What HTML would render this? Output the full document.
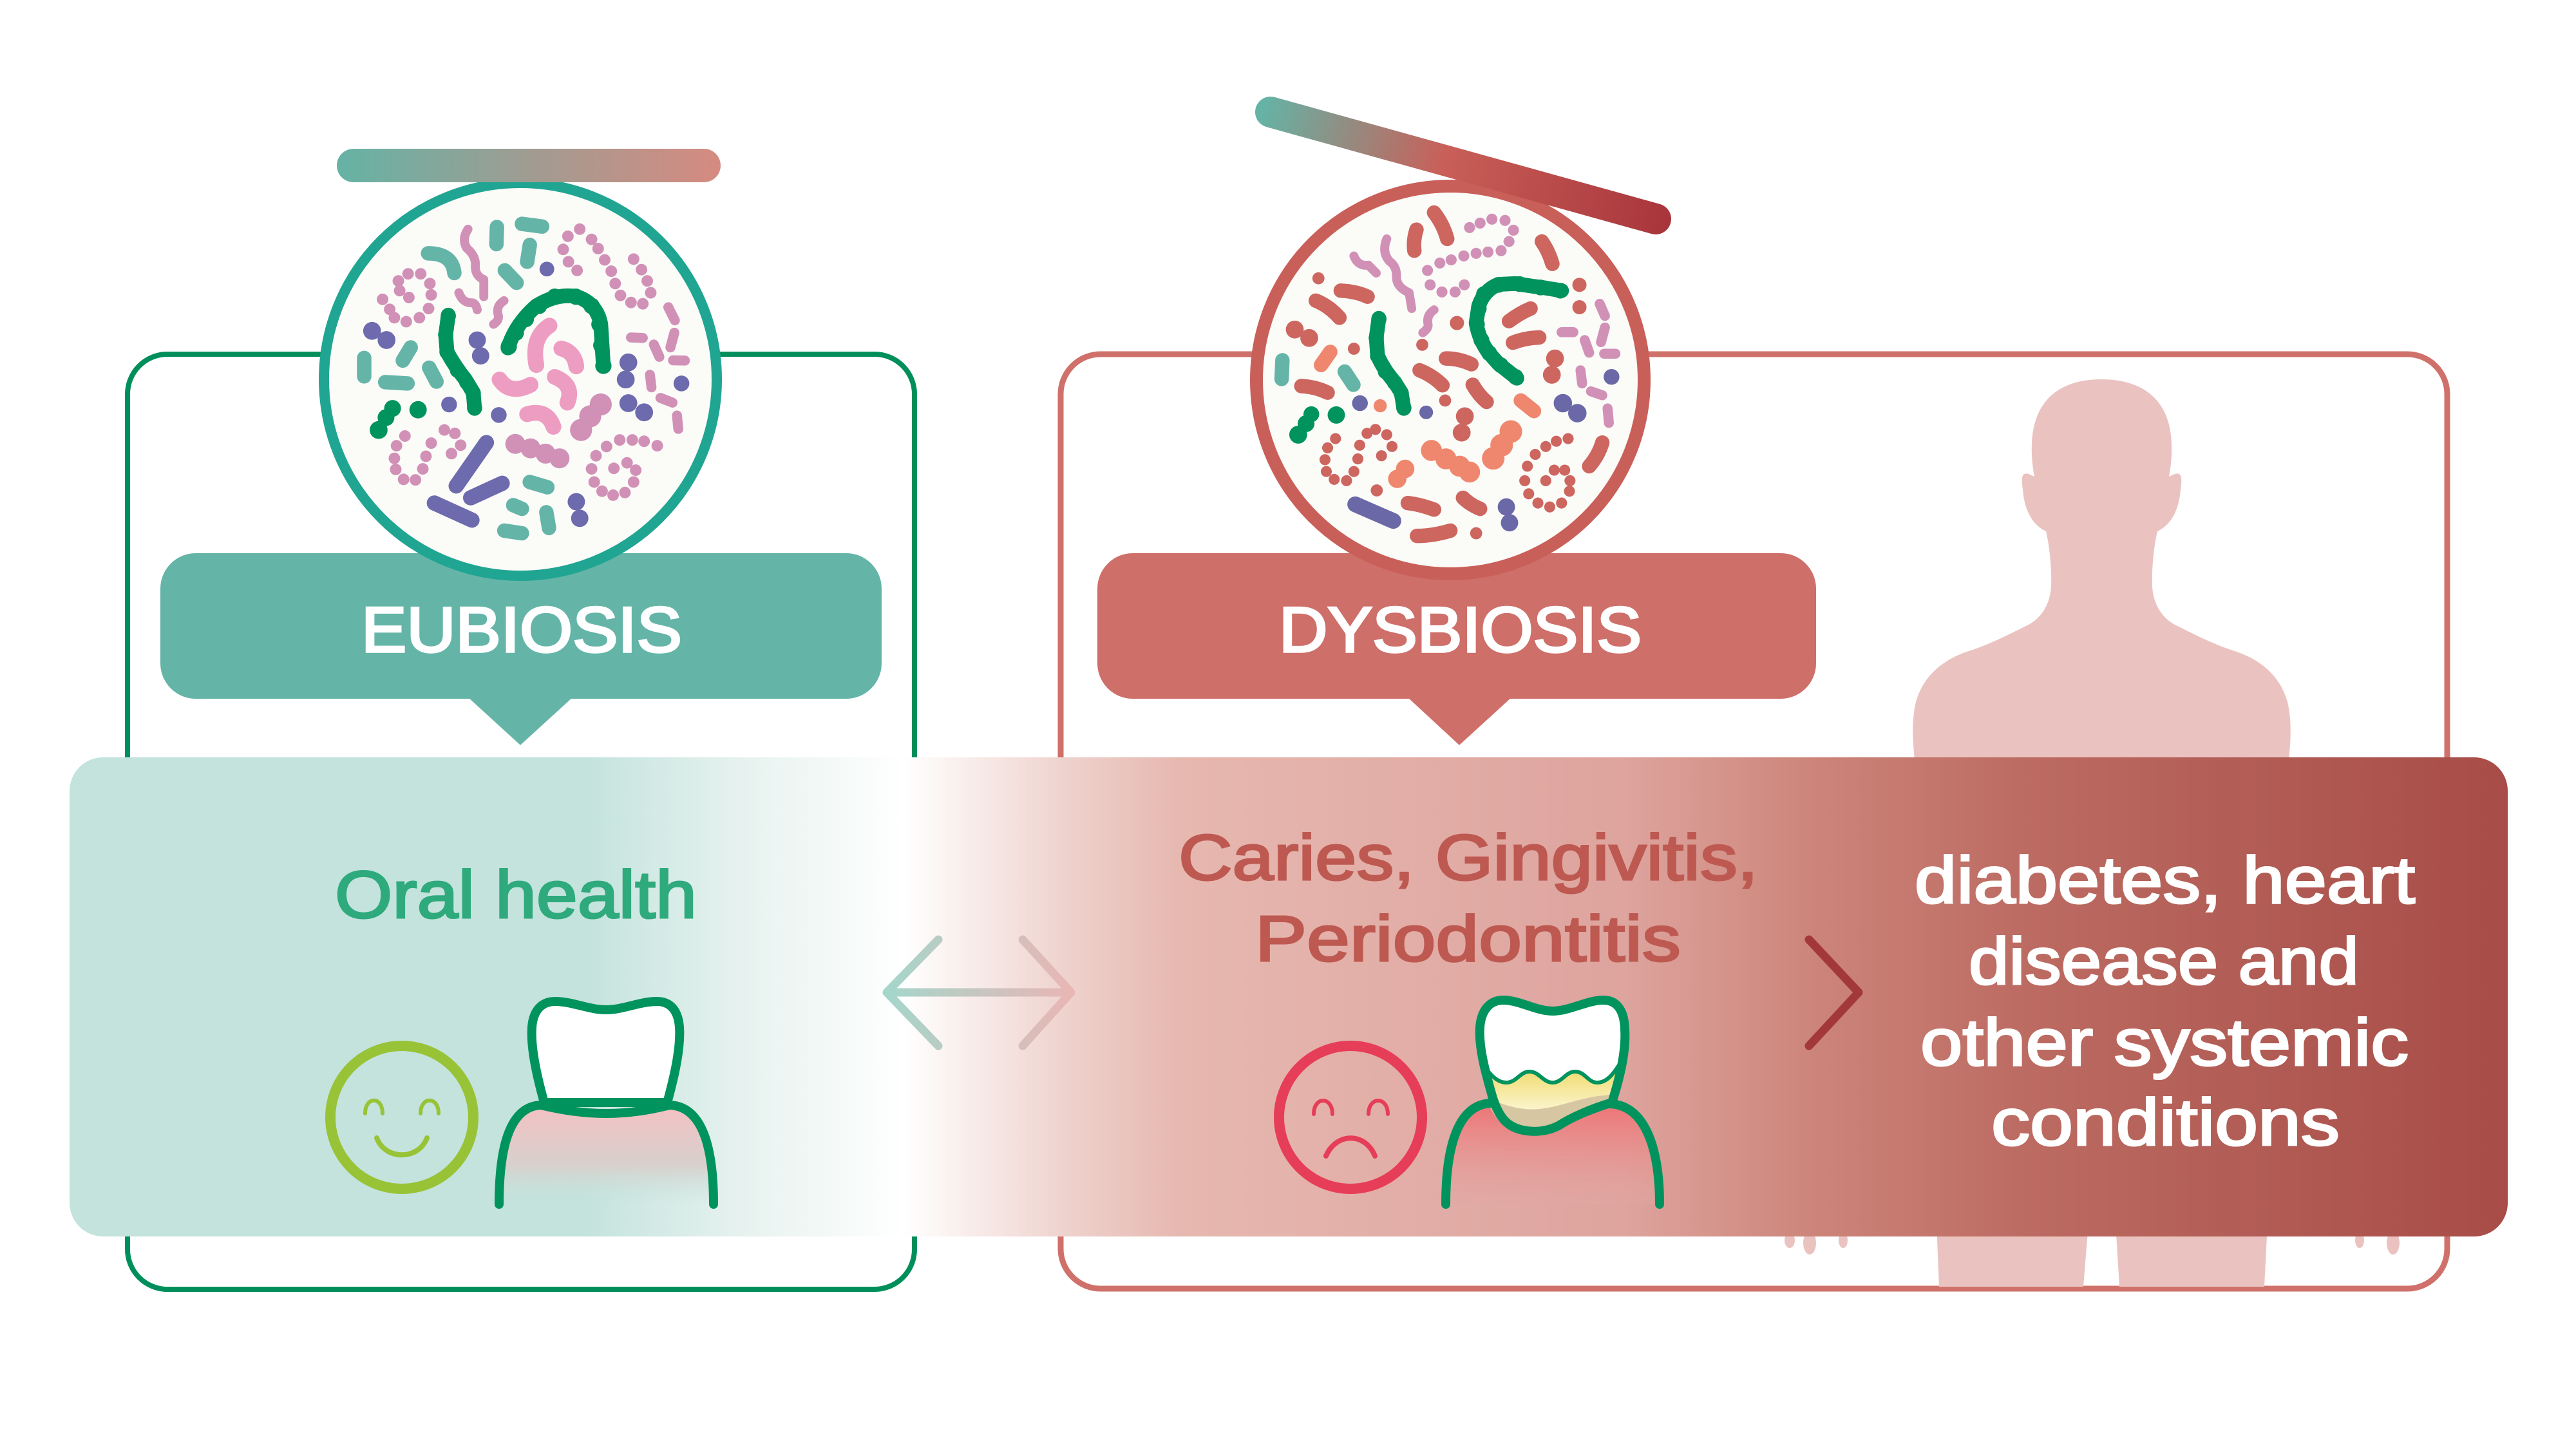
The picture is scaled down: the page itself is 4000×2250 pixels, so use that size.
<!DOCTYPE html>
<html><head><meta charset="utf-8"><style>
html,body{margin:0;padding:0;background:#fff;}
svg{display:block;}
.t{font-family:"Liberation Sans",sans-serif;}
</style></head><body>
<svg width="4000" height="2250" viewBox="0 0 4000 2250" xmlns="http://www.w3.org/2000/svg">
<defs>
<linearGradient id="band" gradientUnits="userSpaceOnUse" x1="108" y1="0" x2="3894" y2="0">
<stop offset="0" stop-color="#c4e3dd"/><stop offset="0.212" stop-color="#c4e3dd"/>
<stop offset="0.275" stop-color="#e6f2ef"/><stop offset="0.342" stop-color="#ffffff"/>
<stop offset="0.407" stop-color="#efd3ce"/><stop offset="0.455" stop-color="#e6b8b0"/>
<stop offset="0.637" stop-color="#dea49e"/><stop offset="0.717" stop-color="#cc8479"/>
<stop offset="0.798" stop-color="#bd6c63"/><stop offset="0.879" stop-color="#b35f57"/>
<stop offset="1" stop-color="#a84c47"/></linearGradient>
<linearGradient id="eubar" x1="0" y1="0" x2="1" y2="0">
<stop offset="0" stop-color="#65b3a5"/><stop offset="0.5" stop-color="#a09c92"/><stop offset="1" stop-color="#d68a80"/></linearGradient>
<linearGradient id="dysbar" gradientUnits="userSpaceOnUse" x1="1960" y1="170" x2="2590" y2="345">
<stop offset="0" stop-color="#65b3a5"/><stop offset="0.45" stop-color="#c95f58"/><stop offset="1" stop-color="#a8353b"/></linearGradient>
<linearGradient id="dbl" gradientUnits="userSpaceOnUse" x1="1375" y1="0" x2="1665" y2="0">
<stop offset="0" stop-color="#a4d6cb"/><stop offset="1" stop-color="#e9b6b4"/></linearGradient>
<linearGradient id="gum1" gradientUnits="userSpaceOnUse" x1="0" y1="1715" x2="0" y2="1872">
<stop offset="0" stop-color="#f4c0c2"/><stop offset="0.6" stop-color="#d8d0cc"/><stop offset="1" stop-color="#c4e3dd" stop-opacity="0"/></linearGradient>
<linearGradient id="gum2" gradientUnits="userSpaceOnUse" x1="0" y1="1715" x2="0" y2="1872">
<stop offset="0" stop-color="#ee7476"/><stop offset="1" stop-color="#e3a8a5" stop-opacity="0.3"/></linearGradient>
<linearGradient id="plaque" gradientUnits="userSpaceOnUse" x1="0" y1="1670" x2="0" y2="1725">
<stop offset="0" stop-color="#f2df7c"/><stop offset="1" stop-color="#fbf5cf"/></linearGradient>
<clipPath id="crown2"><path d="M2318,1705 C2305,1660 2296,1625 2298,1595 C2300,1568 2314,1553 2334,1553 C2360,1553 2385,1570 2411,1570 C2437,1570 2464,1553 2490,1553 C2510,1553 2522,1568 2523,1598 C2525,1628 2518,1665 2503,1712 C2470,1722 2440,1735 2420,1748 C2400,1758 2380,1758 2365,1755 C2340,1750 2328,1735 2318,1705 Z"/></clipPath>
</defs>

<!-- outline boxes -->
<rect x="198" y="550" width="1222" height="1452" rx="62" fill="none" stroke="#008f5b" stroke-width="8"/>
<rect x="1647" y="550" width="2153" height="1451" rx="62" fill="none" stroke="#cf716a" stroke-width="9"/>

<!-- human silhouette -->
<g fill="#eac3c1">
<path d="M3263,589 C3200,589 3157,620 3155,690 C3154,710 3157,730 3159,740 L3150,736 C3140,733 3138,740 3141,760 C3143,790 3155,815 3177,825 C3183,850 3186,885 3185,910 C3184,935 3172,958 3150,970 C3120,985 3090,1000 3063,1009 C3010,1025 2985,1055 2975,1090 C2968,1120 2970,1150 2973,1180 L2973,1260 L3554,1260 L3554,1180 C3557,1150 3559,1120 3552,1090 C3542,1055 3517,1025 3464,1009 C3437,1000 3407,985 3377,970 C3355,958 3343,935 3342,910 C3341,885 3344,850 3350,825 C3372,815 3384,790 3386,760 C3389,740 3387,733 3377,736 L3368,740 C3370,730 3373,710 3372,690 C3370,620 3327,589 3263,589 Z"/>
<polygon points="3007,1900 3243,1900 3235,1998 3011,1998"/>
<polygon points="3285,1900 3521,1900 3516,1998 3291,1998"/>
<ellipse cx="2779" cy="1926" rx="8" ry="12"/>
<ellipse cx="2810" cy="1930" rx="10" ry="18"/>
<ellipse cx="2862" cy="1926" rx="7" ry="12"/>
<ellipse cx="3664" cy="1926" rx="7" ry="12"/>
<ellipse cx="3716" cy="1930" rx="10" ry="18"/>
</g>

<!-- label boxes -->
<rect x="249" y="859" width="1120" height="226" rx="55" fill="#64b5a8"/>
<polygon points="727,1083 889,1083 808,1157" fill="#64b5a8"/>
<rect x="1704" y="859" width="1116" height="226" rx="55" fill="#ce6f69"/>
<polygon points="2186,1083 2347,1083 2266,1157" fill="#ce6f69"/>
<text class="t" x="561" y="1012" textLength="498" lengthAdjust="spacingAndGlyphs" font-size="99" fill="#fff" stroke="#fff" stroke-width="3.5">EUBIOSIS</text>
<text class="t" x="1986" y="1012" textLength="563" lengthAdjust="spacingAndGlyphs" font-size="99" fill="#fff" stroke="#fff" stroke-width="3.5">DYSBIOSIS</text>

<!-- circles -->
<circle cx="808" cy="589" r="305" fill="#fbfbf8" stroke="#21a593" stroke-width="16"/>
<circle cx="2252" cy="590" r="301" fill="#fbfbf8" stroke="#c95f59" stroke-width="20"/>

<!-- eubiosis bacteria -->
<g transform="translate(490,275) scale(0.40816)" stroke-linecap="round" stroke-linejoin="round">
<g fill="none" stroke="#64b5a8" stroke-width="55">
<path d="M690,190 L688,255 M785,178 L862,188 M815,258 L805,322 M428,290 Q520,290 528,365 M720,355 L765,402 M362,648 L332,698 M185,688 L185,758 M265,780 L350,785 M432,725 L460,778 M815,1160 L882,1180 M752,1248 L785,1262 M878,1275 L888,1335 M718,1345 L785,1355"/>
</g>
<g fill="#d191b7">
<circle cx="315" cy="395" r="22"/><circle cx="320" cy="432" r="22"/><circle cx="355" cy="458" r="22"/><circle cx="440" cy="448" r="22"/><circle cx="435" cy="405" r="22"/><circle cx="400" cy="368" r="22"/><circle cx="352" cy="368" r="22"/>
<circle cx="255" cy="465" r="22"/><circle cx="282" cy="503" r="22"/><circle cx="300" cy="535" r="22"/><circle cx="345" cy="550" r="22"/><circle cx="395" cy="535" r="22"/><circle cx="430" cy="500" r="22"/>
<circle cx="960" cy="225" r="22"/><circle cx="1005" cy="198" r="22"/><circle cx="1050" cy="237" r="22"/><circle cx="1075" cy="272" r="22"/><circle cx="1100" cy="315" r="22"/><circle cx="1125" cy="358" r="22"/><circle cx="1140" cy="405" r="22"/><circle cx="1160" cy="450" r="22"/><circle cx="1200" cy="477" r="22"/><circle cx="1245" cy="482" r="22"/><circle cx="1275" cy="440" r="22"/><circle cx="1262" cy="395" r="22"/><circle cx="1240" cy="352" r="22"/><circle cx="1210" cy="312" r="22"/><circle cx="942" cy="275" r="22"/><circle cx="962" cy="322" r="22"/><circle cx="995" cy="355" r="22"/>
<circle cx="340" cy="985" r="22"/><circle cx="308" cy="1022" r="22"/><circle cx="300" cy="1070" r="22"/><circle cx="305" cy="1112" r="22"/><circle cx="335" cy="1150" r="22"/><circle cx="380" cy="1152" r="22"/><circle cx="408" cy="1110" r="22"/><circle cx="420" cy="1062" r="22"/><circle cx="440" cy="1012" r="22"/><circle cx="490" cy="962" r="22"/><circle cx="530" cy="975" r="22"/><circle cx="552" cy="1020" r="22"/><circle cx="517" cy="1052" r="22"/>
<circle cx="1300" cy="1022" r="22"/><circle cx="1250" cy="1005" r="22"/><circle cx="1205" cy="1000" r="22"/><circle cx="1157" cy="1000" r="22"/><circle cx="1107" cy="1025" r="22"/><circle cx="1067" cy="1060" r="22"/><circle cx="1050" cy="1110" r="22"/><circle cx="1060" cy="1160" r="22"/><circle cx="1090" cy="1195" r="22"/><circle cx="1132" cy="1210" r="22"/><circle cx="1177" cy="1200" r="22"/><circle cx="1210" cy="1160" r="22"/><circle cx="1218" cy="1115" r="22"/><circle cx="1185" cy="1087" r="22"/><circle cx="1135" cy="1108" r="22"/>
<circle cx="760" cy="1015" r="38"/><circle cx="818" cy="1032" r="38"/><circle cx="875" cy="1052" r="38"/><circle cx="928" cy="1070" r="38"/>
<circle cx="1085" cy="865" r="42"/><circle cx="1045" cy="910" r="42"/><circle cx="1010" cy="962" r="42"/>
</g>
<g fill="none" stroke="#d191b7" stroke-width="38">
<path d="M1342,495 L1367,545 M1365,592 L1350,648 M1200,610 L1245,612 M1287,637 L1308,684 M1360,697 L1405,698 M1272,752 L1278,800 M1312,840 L1358,858 M1375,907 L1380,958"/>
</g>
<g fill="none" stroke="#d191b7" stroke-width="34">
<path d="M580,198 Q555,235 575,270 Q610,300 608,335 Q605,375 640,390 L640,455 M545,440 Q560,480 595,478 Q610,480 615,505 M717,470 Q685,490 695,525 Q700,545 677,560"/>
</g>
<g fill="none" stroke="#ee9dc2" stroke-width="60">
<path d="M890,565 Q820,610 840,715 M935,652 Q985,665 992,720 M700,770 Q740,830 818,790 M910,760 Q985,790 958,858 M805,902 Q880,880 905,950"/>
</g>
<g fill="none" stroke="#00935d" stroke-width="56">
<path d="M732,650 Q760,560 840,490 Q920,440 995,455 Q1070,480 1085,560 L1095,720 M505,525 L495,600 L500,665 Q530,720 570,770 L600,820 L605,880"/>
</g>
<g fill="#00935d">
<circle cx="735" cy="645" r="31"/><circle cx="762" cy="592" r="31"/><circle cx="800" cy="540" r="31"/><circle cx="850" cy="490" r="31"/><circle cx="910" cy="455" r="31"/><circle cx="990" cy="455" r="31"/><circle cx="1050" cy="490" r="31"/><circle cx="1080" cy="560" r="31"/><circle cx="1087" cy="640" r="31"/><circle cx="1095" cy="718" r="31"/>
<circle cx="505" cy="528" r="29"/><circle cx="495" cy="600" r="29"/><circle cx="500" cy="665" r="29"/><circle cx="540" cy="735" r="29"/><circle cx="575" cy="780" r="29"/><circle cx="600" cy="822" r="29"/><circle cx="605" cy="878" r="29"/>
<circle cx="240" cy="962" r="34"/><circle cx="268" cy="915" r="32"/><circle cx="293" cy="880" r="32"/><circle cx="390" cy="885" r="33"/>
</g>
<g fill="#6d6aad">
<circle cx="215" cy="585" r="34"/><circle cx="270" cy="620" r="34"/><circle cx="615" cy="620" r="33"/><circle cx="628" cy="680" r="33"/><circle cx="1190" cy="705" r="34"/><circle cx="1180" cy="770" r="34"/><circle cx="1190" cy="860" r="34"/><circle cx="1250" cy="895" r="34"/><circle cx="992" cy="1235" r="33"/><circle cx="1005" cy="1298" r="33"/>
<circle cx="880" cy="350" r="28"/><circle cx="508" cy="865" r="30"/><circle cx="697" cy="905" r="30"/><circle cx="1392" cy="785" r="30"/>
</g>
<g fill="none" stroke="#6d6aad" stroke-width="58">
<path d="M535,1175 L650,1010 M590,1220 L710,1165 M452,1240 L595,1305"/>
</g>
</g>

<!-- dysbiosis bacteria -->
<g transform="translate(1935,275) scale(0.40816)" stroke-linecap="round" stroke-linejoin="round">
<g fill="none" stroke="#cd665f" stroke-width="55">
<path d="M715,135 Q750,180 765,235 M648,200 Q635,240 640,280 M1125,245 Q1150,280 1165,330 M360,432 Q420,435 462,455 M265,470 Q315,490 355,535 M1000,548 Q1040,518 1082,500 M1015,630 Q1060,612 1115,610 M760,690 Q810,690 857,712 M660,735 Q710,755 747,792 M862,790 Q885,830 915,855 M210,795 Q265,798 310,820 M615,1240 Q660,1245 715,1265 M825,1220 Q850,1245 890,1262 M650,1365 Q710,1365 777,1345 M1355,1010 Q1340,1060 1305,1100"/>
</g>
<g fill="#cd665f">
<circle cx="275" cy="385" r="23"/><circle cx="410" cy="653" r="23"/><circle cx="670" cy="638" r="23"/><circle cx="802" cy="555" r="27"/><circle cx="1268" cy="410" r="27"/><circle cx="1268" cy="495" r="27"/><circle cx="757" cy="850" r="23"/><circle cx="497" cy="1192" r="23"/><circle cx="875" cy="1355" r="23"/>
<circle cx="185" cy="580" r="34"/><circle cx="240" cy="612" r="34"/><circle cx="1175" cy="690" r="34"/><circle cx="1163" cy="752" r="34"/><circle cx="832" cy="910" r="34"/><circle cx="820" cy="972" r="34"/>
<circle cx="340" cy="995" r="21"/><circle cx="310" cy="1030" r="21"/><circle cx="300" cy="1075" r="21"/><circle cx="305" cy="1120" r="21"/><circle cx="335" cy="1150" r="21"/><circle cx="382" cy="1155" r="21"/><circle cx="410" cy="1120" r="21"/><circle cx="425" cy="1072" r="21"/><circle cx="432" cy="1020" r="21"/><circle cx="460" cy="975" r="21"/><circle cx="492" cy="960" r="21"/><circle cx="535" cy="980" r="21"/><circle cx="555" cy="1025" r="21"/><circle cx="515" cy="1060" r="21"/>
<circle cx="1225" cy="995" r="21"/><circle cx="1180" cy="1005" r="21"/><circle cx="1140" cy="1025" r="21"/><circle cx="1100" cy="1055" r="21"/><circle cx="1070" cy="1100" r="21"/><circle cx="1060" cy="1155" r="21"/><circle cx="1075" cy="1205" r="21"/><circle cx="1110" cy="1240" r="21"/><circle cx="1155" cy="1255" r="21"/><circle cx="1200" cy="1240" r="21"/><circle cx="1230" cy="1195" r="21"/><circle cx="1232" cy="1155" r="21"/><circle cx="1212" cy="1115" r="21"/><circle cx="1172" cy="1115" r="21"/><circle cx="1140" cy="1155" r="21"/>
</g>
<g fill="none" stroke="#ef876f" stroke-width="55"><path d="M320,665 L285,715 M1045,850 L1095,890"/></g>
<g fill="#ef876f">
<circle cx="510" cy="870" r="25"/>
<circle cx="705" cy="1040" r="40"/><circle cx="760" cy="1072" r="40"/><circle cx="812" cy="1100" r="40"/><circle cx="850" cy="1122" r="40"/>
<circle cx="1007" cy="968" r="43"/><circle cx="972" cy="1020" r="43"/><circle cx="940" cy="1070" r="43"/>
<circle cx="605" cy="1110" r="35"/><circle cx="575" cy="1148" r="35"/>
</g>
<g fill="#d191b7">
<circle cx="850" cy="192" r="21"/><circle cx="890" cy="175" r="21"/><circle cx="935" cy="160" r="21"/><circle cx="985" cy="165" r="21"/><circle cx="1017" cy="202" r="21"/><circle cx="1000" cy="245" r="21"/><circle cx="970" cy="280" r="21"/><circle cx="920" cy="285" r="21"/><circle cx="875" cy="290" r="21"/><circle cx="828" cy="300" r="21"/><circle cx="780" cy="315" r="21"/><circle cx="737" cy="327" r="21"/><circle cx="690" cy="355" r="21"/><circle cx="700" cy="410" r="21"/><circle cx="745" cy="437" r="21"/><circle cx="795" cy="437" r="21"/><circle cx="830" cy="410" r="21"/>
</g>
<g fill="none" stroke="#d191b7" stroke-width="34">
<path d="M535,235 Q515,285 545,320 Q575,340 572,385 Q575,420 620,440 L630,500 M410,300 Q425,340 465,335 L495,365 M715,505 Q685,525 692,560 Q695,575 672,592"/>
</g>
<g fill="none" stroke="#d191b7" stroke-width="38">
<path d="M1345,482 L1365,528 M1365,572 L1350,628 M1200,590 L1245,590 M1288,620 L1305,668 M1362,672 L1405,672 M1272,735 L1278,785 M1312,815 L1355,830 M1375,880 L1380,935"/>
</g>
<g fill="none" stroke="#00935d" stroke-width="56">
<path d="M505,537 L495,610 L500,680 Q525,735 565,780 L590,820 L600,880 M1200,432 L1140,422 L1090,415 L1025,405 L960,408 Q905,430 885,490 L875,555 Q885,615 920,665 L960,710 L1030,765"/>
</g>
<g fill="#00935d">
<circle cx="505" cy="540" r="29"/><circle cx="495" cy="612" r="29"/><circle cx="500" cy="680" r="29"/><circle cx="530" cy="740" r="29"/><circle cx="565" cy="782" r="29"/><circle cx="590" cy="822" r="29"/><circle cx="600" cy="878" r="29"/>
<circle cx="1195" cy="432" r="30"/><circle cx="1120" cy="420" r="30"/><circle cx="1040" cy="407" r="30"/><circle cx="960" cy="410" r="30"/><circle cx="905" cy="445" r="30"/><circle cx="885" cy="500" r="30"/><circle cx="878" cy="560" r="30"/><circle cx="895" cy="620" r="30"/><circle cx="925" cy="670" r="30"/><circle cx="968" cy="715" r="30"/><circle cx="1025" cy="760" r="30"/>
<circle cx="198" cy="980" r="34"/><circle cx="228" cy="938" r="32"/><circle cx="248" cy="902" r="30"/><circle cx="343" cy="905" r="33"/>
</g>
<g fill="none" stroke="#64b5a8" stroke-width="55"><path d="M138,697 L135,768 M375,740 L408,790"/></g>
<g fill="#6a68a6">
<circle cx="433" cy="860" r="30"/><circle cx="685" cy="895" r="26"/><circle cx="1205" cy="860" r="35"/><circle cx="1260" cy="898" r="35"/><circle cx="990" cy="1255" r="33"/><circle cx="1002" cy="1315" r="33"/><circle cx="1390" cy="760" r="30"/>
</g>
<g fill="none" stroke="#6a68a6" stroke-width="60"><path d="M415,1245 L560,1308"/></g>
</g>

<!-- bars -->
<rect x="523" y="231" width="596" height="52" rx="26" fill="url(#eubar)"/>
<line x1="1973" y1="174" x2="2571" y2="340" stroke="url(#dysbar)" stroke-width="48" stroke-linecap="round"/>

<!-- main band -->
<rect x="108" y="1176" width="3786" height="744" rx="52" fill="url(#band)"/>

<!-- texts in band -->
<text class="t" x="520" y="1425" textLength="562" lengthAdjust="spacingAndGlyphs" font-size="104" fill="#2eaa7d" stroke="#2eaa7d" stroke-width="3">Oral health</text>
<text class="t" x="1830" y="1366" textLength="900" lengthAdjust="spacingAndGlyphs" font-size="100" fill="#bd5951" stroke="#bd5951" stroke-width="3">Caries, Gingivitis,</text>
<text class="t" x="1949" y="1492" textLength="661" lengthAdjust="spacingAndGlyphs" font-size="100" fill="#bd5951" stroke="#bd5951" stroke-width="3">Periodontitis</text>
<g fill="#fff" stroke="#fff" stroke-width="3" font-size="103">
<text class="t" x="2973" y="1402" textLength="777" lengthAdjust="spacingAndGlyphs">diabetes, heart</text>
<text class="t" x="3057" y="1528" textLength="606" lengthAdjust="spacingAndGlyphs">disease and</text>
<text class="t" x="2982" y="1654" textLength="758" lengthAdjust="spacingAndGlyphs">other systemic</text>
<text class="t" x="3092" y="1778" textLength="541" lengthAdjust="spacingAndGlyphs">conditions</text>
</g>

<!-- arrows -->
<g fill="none" stroke="url(#dbl)" stroke-width="13" stroke-linecap="round" stroke-linejoin="round">
<polyline points="1457,1459 1377,1541 1457,1624"/>
<polyline points="1588,1459 1663,1541 1588,1624"/>
<line x1="1385" y1="1541" x2="1658" y2="1541"/>
</g>
<polyline points="2809,1459 2886,1541 2809,1624" fill="none" stroke="#a3383a" stroke-width="13" stroke-linecap="round" stroke-linejoin="round"/>

<!-- smiley -->
<g fill="none" stroke="#98c337" stroke-linecap="round">
<circle cx="624" cy="1735" r="111" stroke-width="16"/>
<path d="M567,1729 C567,1702 594,1702 594,1729" stroke-width="6"/>
<path d="M653,1729 C653,1702 681,1702 681,1729" stroke-width="6"/>
<path d="M585,1767 C598,1802 650,1802 663,1767" stroke-width="8"/>
</g>

<!-- healthy tooth -->
<path d="M845,1712 C832,1665 824,1625 826,1595 C828,1568 842,1555 862,1555 C888,1555 915,1568 941,1568 C967,1568 994,1555 1020,1555 C1040,1555 1053,1568 1055,1595 C1057,1625 1049,1665 1036,1712 Z" fill="#fff" stroke="#00935d" stroke-width="14" stroke-linejoin="round"/>
<path d="M775,1870 C775,1785 790,1718 840,1716 C875,1724 905,1729 941,1729 C977,1729 1007,1724 1040,1716 C1092,1718 1108,1785 1108,1870 Z" fill="url(#gum1)"/>
<path d="M775,1870 C775,1785 790,1718 840,1716 C875,1724 905,1729 941,1729 C977,1729 1007,1724 1040,1716 C1092,1718 1108,1785 1108,1870" fill="none" stroke="#00935d" stroke-width="14" stroke-linecap="round" stroke-linejoin="round"/>

<!-- sad face -->
<g fill="none" stroke="#e63d58" stroke-linecap="round">
<circle cx="2097" cy="1735" r="111" stroke-width="16"/>
<path d="M2040,1730 C2040,1702 2069,1702 2069,1730" stroke-width="6"/>
<path d="M2125,1730 C2125,1702 2155,1702 2155,1730" stroke-width="6"/>
<path d="M2059,1795 C2075,1758 2120,1758 2135,1795" stroke-width="8"/>
</g>

<!-- diseased tooth -->
<path d="M2245,1870 C2245,1785 2262,1716 2310,1713 C2325,1745 2345,1762 2383,1762 C2425,1762 2440,1730 2495,1716 C2560,1720 2577,1785 2577,1870 Z" fill="url(#gum2)"/>
<g clip-path="url(#crown2)">
<rect x="2280" y="1540" width="260" height="240" fill="url(#plaque)"/>
<path d="M2300,1700 C2330,1715 2360,1725 2390,1722 C2430,1718 2460,1700 2510,1700 L2510,1780 L2300,1780 Z" fill="#d6c6a2"/>
<path d="M2302,1652 C2315,1670 2325,1681 2339,1681 C2355,1681 2360,1664 2375,1664 C2390,1664 2396,1681 2411,1681 C2426,1681 2431,1664 2446,1664 C2461,1664 2466,1681 2480,1681 C2495,1681 2505,1668 2515,1652 L2540,1652 L2540,1540 L2280,1540 L2280,1652 Z" fill="#fff"/>
<path d="M2302,1652 C2315,1670 2325,1681 2339,1681 C2355,1681 2360,1664 2375,1664 C2390,1664 2396,1681 2411,1681 C2426,1681 2431,1664 2446,1664 C2461,1664 2466,1681 2480,1681 C2495,1681 2505,1668 2515,1652" fill="none" stroke="#00935d" stroke-width="6"/>
</g>
<path d="M2318,1705 C2305,1660 2296,1625 2298,1595 C2300,1568 2314,1553 2334,1553 C2360,1553 2385,1570 2411,1570 C2437,1570 2464,1553 2490,1553 C2510,1553 2522,1568 2523,1598 C2525,1628 2518,1665 2503,1712 C2470,1722 2440,1735 2420,1748 C2400,1758 2380,1758 2365,1755 C2340,1750 2328,1735 2318,1705 Z" fill="none" stroke="#00935d" stroke-width="14" stroke-linejoin="round"/>
<g fill="none" stroke="#00935d" stroke-width="14" stroke-linecap="round">
<path d="M2245,1870 C2245,1785 2262,1716 2314,1713"/>
<path d="M2500,1714 C2555,1716 2577,1785 2577,1870"/>
</g>
</svg>
</body></html>
